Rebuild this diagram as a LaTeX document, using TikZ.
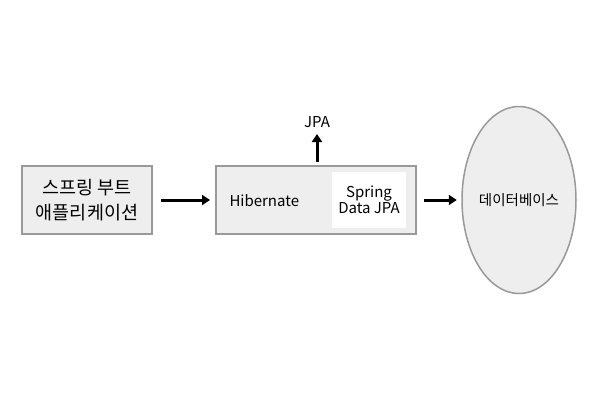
\documentclass[tikz,border=0pt]{standalone}
\usepackage{fontspec}
\setmainfont{Noto Sans CJK KR}
\usetikzlibrary{shapes.geometric,arrows.meta,positioning}
\definecolor{boxfill}{HTML}{EEEEEE}
\definecolor{boxline}{HTML}{999999}
\begin{document}
\begin{tikzpicture}[
  x=1pt, y=-1pt,
  graybox/.style={draw=boxline, line width=1.5pt, fill=boxfill, inner sep=0pt},
  flow/.style={-{Triangle[length=8pt,width=10pt]}, line width=3pt},
  label text/.style={font=\fontsize{15}{16}\selectfont, align=center},
]
\useasboundingbox (0,0) rectangle (600,400);
\node[graybox, minimum width=130pt, minimum height=68pt,
      font=\fontsize{18.5}{25}\selectfont, align=center]
  (app) at (87,200) {스프링 부트\\애플리케이션};
\node[graybox, minimum width=200pt, minimum height=68pt] (orm) at (316,200) {};
\node[label text, anchor=west] (hibernate) at (226,201) {Hibernate};
\node[fill=white, minimum width=74pt, minimum height=56pt, label text]
  (springdata) at (369,200) {Spring\\Data JPA};
\node[label text] (jpa) at (317,122) {JPA};
\node[graybox, ellipse, minimum width=114pt, minimum height=187pt,
      font=\fontsize{14.5}{16}\selectfont]
  (db) at (519,200) {데이터베이스};
\draw[flow] (app.east) ++(8,0) coordinate (a1) -- (orm.west -| 210,0);
\draw[flow] (orm.north) ++(1,-3) coordinate (a2) -- (317,134);
\draw[flow] (orm.east) ++(7,0) coordinate (a3) -- ++(33,0);
\end{tikzpicture}
\end{document}
